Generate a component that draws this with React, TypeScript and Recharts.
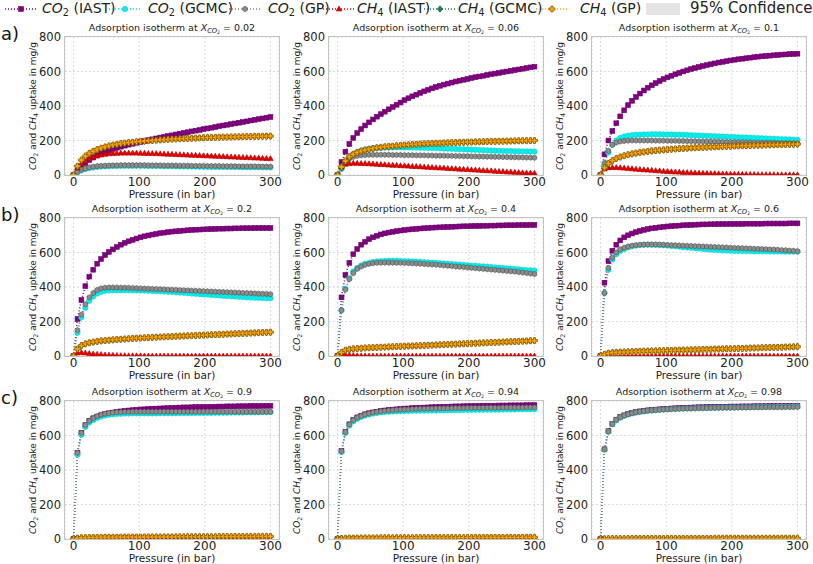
import React from 'react';
import { LineChart, Line, XAxis, YAxis, CartesianGrid } from 'recharts';

// pressure grid (bar)
const pressure = [0, 6, 12, 18, 24, 30, 36, 42, 48, 54, 60, 66, 72, 78, 84, 90, 96, 102, 108, 114, 120, 126, 132, 138, 144, 150, 156, 162, 168, 174, 180, 186, 192, 198, 204, 210, 216, 222, 228, 234, 240, 246, 252, 258, 264, 270, 276, 282, 288, 294, 300];

// X_CO2 = 0.02
const co2Iast002 = [0, 25, 50, 70, 87, 101, 113, 124, 134, 143, 151, 158, 164, 170, 176, 181, 187, 192, 197, 202, 207, 212, 217, 221, 226, 230, 235, 239, 244, 248, 253, 257, 261, 266, 270, 274, 278, 283, 287, 291, 295, 299, 303, 307, 311, 316, 320, 324, 328, 332, 336];
const co2Gcmc002 = [0, 15, 27, 35, 40, 44, 47, 49, 50, 51, 52, 52, 53, 53, 53, 53, 53, 53, 53, 52, 52, 52, 52, 51, 51, 51, 50, 50, 50, 49, 49, 49, 48, 48, 48, 47, 47, 47, 47, 46, 46, 46, 46, 45, 45, 45, 45, 45, 44, 44, 44];
const co2Gp002 = [0, 18, 30, 38, 44, 48, 51, 53, 54, 55, 56, 56, 57, 57, 57, 57, 57, 57, 57, 56, 56, 56, 56, 55, 55, 55, 55, 54, 54, 54, 53, 53, 53, 53, 52, 52, 52, 52, 51, 51, 51, 51, 50, 50, 50, 50, 50, 49, 49, 49, 49];
const ch4Iast002 = [0, 40, 65, 82, 95, 104, 111, 116, 120, 123, 125, 126, 127, 127, 127, 127, 127, 126, 126, 125, 125, 124, 123, 122, 121, 120, 119, 118, 117, 116, 115, 114, 113, 112, 111, 110, 109, 108, 107, 106, 105, 104, 103, 102, 101, 100, 99, 98, 97, 96, 95];
const ch4Gcmc002 = [0, 50, 85, 108, 125, 137, 147, 155, 162, 168, 173, 177, 181, 184, 187, 190, 192, 194, 196, 198, 200, 202, 203, 205, 206, 208, 209, 210, 211, 212, 213, 214, 215, 216, 217, 217, 218, 219, 219, 220, 220, 221, 221, 222, 222, 223, 223, 224, 224, 225, 225];
const ch4Gp002 = [0, 52, 87, 110, 126, 138, 148, 156, 163, 169, 174, 178, 182, 185, 188, 190, 193, 195, 197, 199, 200, 202, 204, 205, 207, 208, 209, 210, 211, 212, 213, 214, 215, 216, 217, 218, 218, 219, 220, 220, 221, 221, 222, 222, 223, 223, 224, 224, 225, 225, 226];

// X_CO2 = 0.06
const co2Iast006 = [0, 75, 135, 180, 215, 243, 266, 287, 305, 322, 338, 353, 367, 381, 394, 407, 420, 434, 445, 456, 466, 476, 485, 494, 502, 510, 517, 524, 530, 536, 542, 547, 552, 557, 562, 567, 571, 575, 580, 584, 588, 592, 596, 600, 604, 608, 612, 616, 620, 624, 628];
const co2Gcmc006 = [0, 35, 72, 100, 120, 133, 142, 148, 152, 155, 157, 158, 159, 159, 160, 160, 160, 160, 160, 159, 159, 158, 158, 157, 157, 156, 155, 154, 153, 152, 151, 150, 149, 148, 147, 146, 145, 144, 143, 142, 141, 140, 140, 139, 139, 138, 138, 137, 137, 136, 136];
const co2Gp006 = [0, 40, 75, 95, 105, 111, 114, 116, 117, 117, 117, 117, 117, 117, 116, 116, 116, 115, 115, 115, 114, 114, 114, 113, 113, 112, 112, 112, 111, 111, 110, 110, 109, 109, 108, 108, 107, 107, 106, 106, 105, 105, 104, 104, 103, 103, 102, 102, 101, 101, 100];
const ch4Iast006 = [0, 50, 62, 67, 68, 68, 67, 66, 65, 64, 62, 61, 60, 58, 57, 56, 54, 53, 52, 50, 49, 48, 46, 45, 44, 42, 41, 40, 38, 37, 36, 34, 33, 32, 30, 29, 28, 26, 25, 24, 22, 21, 20, 18, 17, 16, 14, 13, 12, 11, 10];
const ch4Gcmc006 = [0, 45, 80, 105, 120, 130, 138, 144, 149, 153, 157, 160, 163, 165, 167, 169, 171, 173, 175, 176, 178, 179, 180, 181, 182, 183, 184, 185, 186, 187, 188, 189, 189, 190, 191, 192, 192, 193, 194, 194, 195, 195, 196, 196, 197, 197, 198, 198, 199, 199, 200];
const ch4Gp006 = [0, 47, 82, 106, 121, 131, 139, 145, 150, 154, 158, 161, 164, 166, 168, 170, 172, 174, 175, 177, 178, 180, 181, 182, 183, 184, 185, 186, 187, 188, 188, 189, 190, 191, 191, 192, 193, 193, 194, 195, 195, 196, 196, 197, 197, 198, 198, 199, 199, 200, 200];

// X_CO2 = 0.1
const co2Iast01 = [0, 120, 200, 255, 300, 340, 375, 405, 430, 452, 472, 490, 506, 520, 533, 545, 556, 566, 575, 584, 592, 600, 607, 614, 620, 626, 632, 637, 642, 647, 652, 656, 660, 664, 668, 671, 674, 677, 680, 683, 686, 688, 690, 692, 694, 696, 698, 699, 701, 702, 703];
const co2Gcmc01 = [0, 60, 130, 175, 200, 215, 223, 228, 231, 233, 234, 235, 235, 236, 236, 236, 235, 235, 235, 234, 234, 233, 232, 231, 230, 229, 228, 227, 226, 225, 224, 223, 222, 221, 220, 219, 218, 217, 216, 215, 214, 213, 212, 211, 210, 209, 208, 207, 206, 205, 205];
const co2Gp01 = [0, 70, 140, 175, 188, 194, 197, 199, 200, 200, 200, 200, 200, 200, 199, 199, 199, 198, 198, 198, 197, 197, 196, 196, 196, 195, 195, 194, 194, 193, 193, 192, 192, 191, 191, 190, 190, 189, 189, 188, 188, 187, 187, 186, 186, 185, 185, 184, 184, 183, 183];
const ch4Iast01 = [0, 35, 42, 44, 43, 42, 40, 38, 36, 34, 32, 30, 29, 27, 25, 24, 22, 21, 19, 18, 17, 15, 14, 13, 12, 11, 10, 9, 8, 8, 7, 6, 6, 5, 5, 4, 4, 3, 3, 3, 2, 2, 2, 2, 2, 1, 1, 1, 1, 1, 1];
const ch4Gcmc01 = [0, 40, 65, 82, 95, 104, 111, 117, 122, 126, 130, 133, 136, 139, 141, 143, 145, 147, 149, 151, 152, 154, 155, 157, 158, 159, 160, 161, 162, 163, 164, 165, 166, 167, 168, 169, 169, 170, 171, 172, 172, 173, 174, 174, 175, 176, 176, 177, 177, 178, 178];
const ch4Gp01 = [0, 42, 67, 84, 96, 105, 112, 118, 123, 127, 131, 134, 137, 140, 142, 144, 146, 148, 150, 151, 153, 154, 156, 157, 158, 159, 160, 161, 162, 163, 164, 165, 166, 167, 168, 169, 170, 170, 171, 172, 173, 173, 174, 175, 175, 176, 176, 177, 178, 178, 179];

// X_CO2 = 0.2
const co2Iast02 = [0, 215, 325, 405, 460, 500, 535, 562, 585, 603, 618, 632, 645, 656, 665, 673, 681, 688, 694, 699, 704, 708, 712, 715, 718, 721, 723, 725, 727, 729, 731, 732, 733, 734, 735, 736, 737, 738, 738, 739, 739, 740, 740, 741, 741, 741, 742, 742, 742, 742, 742];
const co2Gcmc02 = [0, 135, 225, 280, 320, 345, 362, 372, 378, 380, 381, 381, 381, 381, 381, 381, 380, 380, 379, 378, 377, 376, 375, 374, 372, 371, 369, 368, 366, 364, 362, 361, 359, 357, 356, 354, 352, 351, 349, 348, 346, 345, 343, 342, 340, 339, 338, 337, 336, 335, 335];
const co2Gp02 = [0, 150, 240, 300, 340, 365, 383, 392, 396, 397, 397, 397, 396, 396, 395, 394, 393, 392, 391, 390, 389, 388, 387, 386, 385, 384, 383, 382, 381, 380, 379, 378, 377, 376, 375, 374, 373, 372, 371, 370, 369, 368, 367, 366, 365, 364, 363, 362, 361, 360, 358];
const ch4Iast02 = [0, 18, 20, 18, 15, 12, 10, 8, 6, 5, 4, 3, 2, 2, 1, 1, 1, 1, 0, 0, 0, 0, 0, 0, 0, 0, 0, 0, 0, 0, 0, 0, 0, 0, 0, 0, 0, 0, 0, 0, 0, 0, 0, 0, 0, 0, 0, 0, 0, 0, 0];
const ch4Gcmc02 = [0, 40, 60, 70, 76, 80, 84, 87, 89, 91, 93, 95, 97, 98, 100, 101, 103, 104, 105, 106, 107, 109, 110, 111, 112, 113, 114, 115, 116, 117, 118, 119, 120, 121, 122, 123, 124, 125, 126, 127, 128, 129, 130, 131, 132, 133, 134, 135, 136, 137, 138];
const ch4Gp02 = [0, 41, 61, 71, 77, 81, 85, 88, 90, 92, 94, 96, 97, 99, 100, 102, 103, 104, 106, 107, 108, 109, 110, 111, 112, 113, 114, 115, 116, 117, 118, 119, 120, 121, 122, 123, 124, 125, 126, 127, 128, 129, 130, 131, 132, 133, 134, 135, 136, 137, 138];

// X_CO2 = 0.4
const co2Iast04 = [0, 340, 470, 540, 590, 620, 645, 662, 677, 688, 697, 705, 711, 716, 720, 724, 727, 730, 733, 735, 737, 739, 741, 742, 744, 745, 746, 747, 748, 749, 750, 751, 752, 752, 753, 754, 754, 755, 755, 756, 756, 757, 757, 758, 758, 758, 759, 759, 759, 760, 760];
const co2Gcmc04 = [0, 265, 390, 450, 490, 510, 525, 535, 540, 545, 548, 550, 551, 552, 552, 552, 551, 550, 549, 548, 547, 546, 544, 543, 541, 540, 538, 536, 535, 533, 531, 530, 528, 526, 524, 523, 521, 519, 518, 516, 514, 512, 510, 508, 506, 504, 502, 500, 498, 497, 495];
const co2Gp04 = [0, 265, 385, 445, 480, 505, 518, 528, 534, 538, 540, 541, 541, 541, 541, 540, 540, 539, 538, 537, 536, 535, 533, 532, 530, 529, 527, 525, 523, 521, 519, 517, 515, 513, 511, 509, 507, 505, 503, 501, 499, 497, 495, 493, 491, 489, 486, 484, 481, 478, 475];
const ch4Iast04 = [0, 8, 7, 5, 3, 2, 1, 1, 0, 0, 0, 0, 0, 0, 0, 0, 0, 0, 0, 0, 0, 0, 0, 0, 0, 0, 0, 0, 0, 0, 0, 0, 0, 0, 0, 0, 0, 0, 0, 0, 0, 0, 0, 0, 0, 0, 0, 0, 0, 0, 0];
const ch4Gcmc04 = [0, 20, 33, 38, 41, 43, 45, 46, 47, 48, 49, 50, 51, 52, 53, 54, 55, 56, 57, 58, 59, 60, 61, 62, 63, 64, 65, 66, 67, 68, 69, 70, 71, 72, 73, 74, 75, 76, 77, 78, 79, 80, 81, 82, 83, 84, 85, 86, 87, 88, 90];
const ch4Gp04 = [0, 21, 34, 39, 42, 44, 45, 47, 48, 49, 50, 51, 52, 53, 54, 55, 56, 57, 58, 58, 59, 60, 61, 62, 63, 64, 65, 66, 67, 68, 69, 70, 71, 72, 73, 74, 75, 76, 77, 78, 79, 80, 81, 82, 83, 84, 85, 86, 87, 88, 89];

// X_CO2 = 0.6
const co2Iast06 = [0, 425, 550, 610, 645, 670, 688, 700, 710, 718, 725, 731, 736, 740, 743, 746, 749, 751, 753, 755, 756, 758, 759, 760, 761, 762, 763, 763, 764, 764, 765, 765, 765, 766, 766, 766, 766, 767, 767, 767, 767, 767, 768, 768, 768, 768, 768, 768, 769, 769, 769];
const co2Gcmc06 = [0, 365, 500, 560, 590, 608, 620, 630, 636, 640, 643, 645, 645, 645, 644, 643, 642, 640, 638, 636, 634, 631, 629, 627, 625, 623, 621, 619, 617, 615, 614, 612, 611, 610, 609, 609, 608, 608, 608, 607, 607, 607, 607, 606, 606, 606, 606, 605, 605, 605, 605];
const co2Gp06 = [0, 365, 510, 570, 600, 618, 628, 635, 640, 643, 645, 646, 647, 647, 647, 646, 645, 644, 643, 642, 641, 640, 639, 638, 637, 636, 635, 634, 633, 632, 631, 630, 629, 628, 627, 626, 625, 624, 623, 622, 621, 620, 619, 618, 617, 616, 614, 613, 611, 610, 608];
const ch4Iast06 = [0, 3, 2, 1, 1, 0, 0, 0, 0, 0, 0, 0, 0, 0, 0, 0, 0, 0, 0, 0, 0, 0, 0, 0, 0, 0, 0, 0, 0, 0, 0, 0, 0, 0, 0, 0, 0, 0, 0, 0, 0, 0, 0, 0, 0, 0, 0, 0, 0, 0, 0];
const ch4Gcmc06 = [0, 10, 17, 20, 22, 23, 24, 25, 26, 27, 28, 28, 29, 30, 30, 31, 31, 32, 33, 33, 34, 35, 35, 36, 37, 37, 38, 39, 39, 40, 41, 41, 42, 43, 43, 44, 45, 45, 46, 47, 47, 48, 49, 49, 50, 51, 51, 52, 53, 54, 55];
const ch4Gp06 = [0, 10, 16, 19, 21, 22, 23, 24, 25, 26, 27, 28, 28, 29, 30, 30, 31, 32, 32, 33, 34, 34, 35, 36, 36, 37, 38, 38, 39, 40, 40, 41, 42, 42, 43, 44, 44, 45, 46, 46, 47, 48, 48, 49, 50, 50, 51, 52, 52, 53, 54];

// X_CO2 = 0.9
const co2Iast09 = [0, 500, 615, 660, 685, 700, 710, 718, 724, 729, 733, 737, 740, 743, 745, 747, 749, 751, 752, 754, 755, 756, 757, 758, 759, 760, 761, 762, 763, 763, 764, 765, 765, 766, 766, 767, 767, 768, 768, 769, 769, 769, 770, 770, 770, 771, 771, 771, 772, 772, 772];
const co2Gcmc09 = [0, 490, 605, 650, 675, 690, 702, 710, 716, 720, 723, 725, 726, 727, 727, 728, 728, 728, 728, 728, 728, 728, 729, 729, 729, 729, 729, 730, 730, 730, 730, 730, 731, 731, 731, 731, 732, 732, 732, 732, 733, 733, 733, 733, 734, 734, 734, 734, 735, 735, 735];
const co2Gp09 = [0, 500, 615, 660, 685, 700, 712, 720, 726, 730, 733, 735, 736, 737, 737, 738, 738, 738, 738, 738, 738, 738, 738, 738, 738, 738, 738, 738, 738, 738, 738, 738, 738, 738, 738, 738, 738, 738, 738, 738, 738, 738, 738, 738, 738, 738, 738, 738, 738, 738, 738];
const ch4Iast09 = [0, 2, 2, 2, 2, 1, 1, 1, 1, 1, 1, 1, 1, 1, 1, 1, 1, 1, 1, 1, 1, 1, 1, 1, 1, 1, 1, 1, 1, 1, 0, 0, 0, 0, 0, 0, 0, 0, 0, 0, 0, 0, 0, 0, 0, 0, 0, 0, 0, 0, 0];
const ch4Gcmc09 = [0, 5, 7, 8, 8, 9, 9, 9, 10, 10, 10, 10, 10, 11, 11, 11, 11, 11, 11, 11, 12, 12, 12, 12, 12, 12, 12, 12, 12, 13, 13, 13, 13, 13, 13, 13, 13, 13, 13, 13, 14, 14, 14, 14, 14, 14, 14, 14, 14, 14, 14];
const ch4Gp09 = [0, 5, 7, 8, 9, 9, 9, 10, 10, 10, 10, 10, 11, 11, 11, 11, 11, 11, 12, 12, 12, 12, 12, 12, 12, 12, 13, 13, 13, 13, 13, 13, 13, 13, 13, 13, 13, 14, 14, 14, 14, 14, 14, 14, 14, 14, 14, 15, 15, 15, 15];

// X_CO2 = 0.94
const co2Iast094 = [0, 510, 620, 665, 690, 705, 715, 723, 729, 734, 738, 742, 745, 748, 750, 752, 754, 756, 757, 759, 760, 761, 762, 763, 764, 765, 766, 767, 767, 768, 769, 769, 770, 770, 771, 771, 772, 772, 773, 773, 773, 774, 774, 774, 775, 775, 775, 775, 776, 776, 776];
const co2Gcmc094 = [0, 505, 615, 658, 682, 697, 708, 716, 722, 727, 731, 734, 736, 738, 739, 740, 741, 742, 742, 743, 743, 744, 744, 745, 745, 745, 746, 746, 746, 747, 747, 747, 748, 748, 748, 749, 749, 749, 750, 750, 750, 750, 751, 751, 751, 751, 752, 752, 752, 752, 752];
const co2Gp094 = [0, 510, 620, 664, 689, 704, 714, 722, 728, 733, 737, 740, 743, 745, 747, 749, 750, 751, 752, 753, 754, 755, 755, 756, 756, 757, 757, 758, 758, 758, 759, 759, 759, 760, 760, 760, 760, 761, 761, 761, 761, 761, 762, 762, 762, 762, 762, 762, 763, 763, 763];
const ch4Iast094 = [0, 1, 1, 1, 1, 1, 1, 1, 1, 1, 1, 1, 1, 1, 1, 1, 1, 1, 1, 1, 0, 0, 0, 0, 0, 0, 0, 0, 0, 0, 0, 0, 0, 0, 0, 0, 0, 0, 0, 0, 0, 0, 0, 0, 0, 0, 0, 0, 0, 0, 0];
const ch4Gcmc094 = [0, 3, 4, 5, 5, 5, 6, 6, 6, 6, 6, 6, 7, 7, 7, 7, 7, 7, 7, 7, 7, 7, 8, 8, 8, 8, 8, 8, 8, 8, 8, 8, 8, 8, 8, 8, 8, 8, 9, 9, 9, 9, 9, 9, 9, 9, 9, 9, 9, 9, 9];
const ch4Gp094 = [0, 3, 4, 5, 5, 6, 6, 6, 6, 6, 6, 7, 7, 7, 7, 7, 7, 7, 7, 7, 8, 8, 8, 8, 8, 8, 8, 8, 8, 8, 8, 8, 8, 8, 9, 9, 9, 9, 9, 9, 9, 9, 9, 9, 9, 9, 9, 10, 10, 10, 10];

// X_CO2 = 0.98
const co2Iast098 = [0, 520, 625, 668, 692, 707, 717, 725, 731, 736, 740, 743, 746, 748, 750, 752, 754, 755, 757, 758, 759, 760, 761, 762, 763, 764, 764, 765, 765, 766, 766, 767, 767, 768, 768, 768, 769, 769, 769, 770, 770, 770, 770, 771, 771, 771, 771, 772, 772, 772, 772];
const co2Gcmc098 = [0, 518, 622, 665, 689, 704, 714, 722, 728, 733, 737, 740, 743, 745, 747, 749, 750, 752, 753, 754, 755, 756, 757, 757, 758, 759, 759, 760, 760, 761, 761, 762, 762, 763, 763, 763, 764, 764, 764, 765, 765, 765, 766, 766, 766, 767, 767, 767, 767, 768, 768];
const co2Gp098 = [0, 520, 624, 667, 691, 706, 716, 724, 730, 735, 738, 741, 744, 746, 748, 749, 751, 752, 753, 754, 755, 756, 756, 757, 757, 758, 758, 759, 759, 760, 760, 760, 761, 761, 761, 762, 762, 762, 763, 763, 763, 763, 764, 764, 764, 764, 764, 765, 765, 765, 765];
const ch4Iast098 = [0, 0, 0, 0, 0, 0, 0, 0, 0, 0, 0, 0, 0, 0, 0, 0, 0, 0, 0, 0, 0, 0, 0, 0, 0, 0, 0, 0, 0, 0, 0, 0, 0, 0, 0, 0, 0, 0, 0, 0, 0, 0, 0, 0, 0, 0, 0, 0, 0, 0, 0];
const ch4Gcmc098 = [0, 1, 2, 2, 2, 2, 2, 2, 3, 3, 3, 3, 3, 3, 3, 3, 3, 3, 3, 3, 3, 3, 3, 3, 3, 3, 3, 3, 3, 3, 3, 4, 4, 4, 4, 4, 4, 4, 4, 4, 4, 4, 4, 4, 4, 4, 4, 4, 4, 4, 4];
const ch4Gp098 = [0, 1, 2, 2, 2, 2, 2, 3, 3, 3, 3, 3, 3, 3, 3, 3, 3, 3, 3, 3, 3, 3, 3, 3, 3, 3, 3, 3, 3, 4, 4, 4, 4, 4, 4, 4, 4, 4, 4, 4, 4, 4, 4, 4, 4, 4, 4, 4, 4, 4, 4];

const xTicks = [0, 100, 200, 300];
const yTicks = [0, 200, 400, 600, 800];

const FONT = '"DejaVu Sans", Verdana, sans-serif';

type Shape = 'square' | 'circle' | 'hex' | 'triangle' | 'diamond' | 'plus';

const SERIES: { key: string; gas: string; method: string; color: string; fill: string; edge: string; shape: Shape }[] = [
  { key: 'co2Iast', gas: 'CO', method: 'IAST', color: '#800080', fill: '#800080', edge: '#6a006a', shape: 'square' },
  { key: 'co2Gcmc', gas: 'CO', method: 'GCMC', color: '#00e5e5', fill: '#00f0f0', edge: '#20c8c8', shape: 'circle' },
  { key: 'co2Gp', gas: 'CO', method: 'GP', color: '#808080', fill: '#8c8c8c', edge: '#505050', shape: 'hex' },
  { key: 'ch4Iast', gas: 'CH', method: 'IAST', color: '#e00000', fill: '#e60000', edge: '#b00000', shape: 'triangle' },
  { key: 'ch4Gcmc', gas: 'CH', method: 'GCMC', color: '#1a7f55', fill: '#1d8a5c', edge: '#0c3f28', shape: 'diamond' },
  { key: 'ch4Gp', gas: 'CH', method: 'GP', color: '#ffa500', fill: '#ffa500', edge: '#7a5200', shape: 'plus' },
];

const PANELS = [
  { label: '0.02', data: [co2Iast002, co2Gcmc002, co2Gp002, ch4Iast002, ch4Gcmc002, ch4Gp002] },
  { label: '0.06', data: [co2Iast006, co2Gcmc006, co2Gp006, ch4Iast006, ch4Gcmc006, ch4Gp006] },
  { label: '0.1', data: [co2Iast01, co2Gcmc01, co2Gp01, ch4Iast01, ch4Gcmc01, ch4Gp01] },
  { label: '0.2', data: [co2Iast02, co2Gcmc02, co2Gp02, ch4Iast02, ch4Gcmc02, ch4Gp02] },
  { label: '0.4', data: [co2Iast04, co2Gcmc04, co2Gp04, ch4Iast04, ch4Gcmc04, ch4Gp04] },
  { label: '0.6', data: [co2Iast06, co2Gcmc06, co2Gp06, ch4Iast06, ch4Gcmc06, ch4Gp06] },
  { label: '0.9', data: [co2Iast09, co2Gcmc09, co2Gp09, ch4Iast09, ch4Gcmc09, ch4Gp09] },
  { label: '0.94', data: [co2Iast094, co2Gcmc094, co2Gp094, ch4Iast094, ch4Gcmc094, ch4Gp094] },
  { label: '0.98', data: [co2Iast098, co2Gcmc098, co2Gp098, ch4Iast098, ch4Gcmc098, ch4Gp098] },
];

const COL_LEFT = [65, 329, 592];
const ROW_TOP = [37, 218, 401];
const PLOT_W = 214;
const PLOT_H = 138;
const ROW_TAGS = ['a)', 'b)', 'c)'];

function marker(shape: Shape, cx: number, cy: number, fill: string, edge: string, k?: string) {
  const sw = 0.6;
  switch (shape) {
    case 'square':
      return <rect key={k} x={cx - 2.4} y={cy - 2.4} width={4.8} height={4.8} fill={fill} stroke={edge} strokeWidth={sw} />;
    case 'circle':
      return <circle key={k} cx={cx} cy={cy} r={2.7} fill={fill} stroke={edge} strokeWidth={sw} />;
    case 'hex': {
      const pts = [0, 1, 2, 3, 4, 5].map((i) => {
        const a = (Math.PI / 3) * i + Math.PI / 6;
        return `${cx + 2.7 * Math.cos(a)},${cy + 2.7 * Math.sin(a)}`;
      }).join(' ');
      return <polygon key={k} points={pts} fill={fill} stroke={edge} strokeWidth={sw} />;
    }
    case 'triangle':
      return <polygon key={k} points={`${cx},${cy - 3} ${cx + 2.8},${cy + 2} ${cx - 2.8},${cy + 2}`} fill={fill} stroke={edge} strokeWidth={sw} />;
    case 'diamond':
      return <polygon key={k} points={`${cx},${cy - 3.2} ${cx + 2.6},${cy} ${cx},${cy + 3.2} ${cx - 2.6},${cy}`} fill={fill} stroke={edge} strokeWidth={sw} />;
    case 'plus': {
      const a = 1.1, b = 3;
      const d = `M${cx - a},${cy - b}H${cx + a}V${cy - a}H${cx + b}V${cy + a}H${cx + a}V${cy + b}H${cx - a}V${cy + a}H${cx - b}V${cy - a}H${cx - a}Z`;
      return <path key={k} d={d} fill={fill} stroke={edge} strokeWidth={sw} />;
    }
  }
  return null;
}

function Sub({ children }: { children: React.ReactNode }) {
  return <span style={{ fontSize: '70%', verticalAlign: '-0.3em', lineHeight: 0 }}>{children}</span>;
}

function Panel({ idx }: { idx: number }) {
  const panel = PANELS[idx];
  const row = Math.floor(idx / 3);
  const col = idx % 3;
  const L = COL_LEFT[col];
  const T = ROW_TOP[row];
  const rows = pressure.map((p, i) => {
    const o: Record<string, number> = { p };
    SERIES.forEach((s, j) => { o[s.key] = panel.data[j][i]; });
    return o;
  });
  return (
    <>
      <div style={{ position: 'absolute', left: L - 50, top: T - 10 }}>
        <LineChart width={PLOT_W + 55} height={PLOT_H + 35} data={rows} margin={{ top: 10, right: 5, bottom: 0, left: 0 }}>
          <CartesianGrid stroke="#dcdcdc" strokeDasharray="2 2" />
          <XAxis type="number" dataKey="p" domain={[-13, 313]} ticks={xTicks} allowDataOverflow axisLine={false} tickLine={false} tickSize={0} tickMargin={2} height={25} tick={{ fontSize: 12, fill: '#222', fontFamily: FONT }} />
          <YAxis type="number" domain={[0, 800]} ticks={yTicks} allowDataOverflow axisLine={false} tickLine={false} tickSize={0} tickMargin={4} width={50} tick={{ fontSize: 11.5, fill: '#222', fontFamily: FONT }} />
          {SERIES.map((s) => (
            <Line
              key={s.key}
              dataKey={s.key}
              type="linear"
              stroke={s.color}
              strokeWidth={1.5}
              strokeDasharray="1 2"
              isAnimationActive={false}
              activeDot={false}
              dot={(props: any) => marker(s.shape, props.cx, props.cy, s.fill, s.edge, `${s.key}-${props.index}`)}
            />
          ))}
        </LineChart>
      </div>
      <div style={{ position: 'absolute', left: L - 0.75, top: T - 0.75, width: PLOT_W, height: PLOT_H, border: '1.5px solid #c4c4c4', pointerEvents: 'none' }} />
      <div style={{ position: 'absolute', left: L, width: PLOT_W, top: T - 15, textAlign: 'center', fontSize: 9.5, color: '#222', whiteSpace: 'nowrap', fontFamily: FONT }}>
        Adsorption isotherm at <i>X</i><Sub><i>CO</i><Sub>2</Sub></Sub> = {panel.label}
      </div>
      <div style={{ position: 'absolute', left: L - 32, top: T + PLOT_H / 2, transform: 'translate(-50%, -50%) rotate(-90deg)', fontSize: 9, color: '#222', whiteSpace: 'nowrap', fontFamily: FONT }}>
        <i>CO</i><Sub>2</Sub> and <i>CH</i><Sub>4</Sub> uptake in mg/g
      </div>
      <div style={{ position: 'absolute', left: L, width: PLOT_W, top: T + PLOT_H + 14, lineHeight: 1, textAlign: 'center', fontSize: 10.5, color: '#222', fontFamily: FONT }}>
        Pressure (in bar)
      </div>
    </>
  );
}

const LEGEND_POS = [
  { sample: 5, text: 42 },
  { sample: 109, text: 148 },
  { sample: 229, text: 268 },
  { sample: 323, text: 357 },
  { sample: 424, text: 458 },
  { sample: 536, text: 580 },
];

function LegendBar() {
  return (
    <>
      {SERIES.map((s, i) => (
        <React.Fragment key={s.key}>
          <svg style={{ position: 'absolute', left: LEGEND_POS[i].sample, top: 2 }} width={32} height={14}>
            <line x1={0} y1={7} x2={32} y2={7} stroke={s.color} strokeWidth={1.5} strokeDasharray="1 2" />
            {marker(s.shape, 16, 7, s.fill, s.edge)}
          </svg>
          <div style={{ position: 'absolute', left: LEGEND_POS[i].text, top: 0, fontSize: 14, color: '#222', whiteSpace: 'nowrap', fontFamily: FONT }}>
            <i>{s.gas}</i><Sub>{s.gas === 'CO' ? '2' : '4'}</Sub> ({s.method})
          </div>
        </React.Fragment>
      ))}
      <div style={{ position: 'absolute', left: 646, top: 3, width: 34, height: 12, background: '#e4e4e4' }} />
      <div style={{ position: 'absolute', left: 690, top: -1, fontSize: 15, color: '#222', whiteSpace: 'nowrap', fontFamily: FONT }}>
        95% Confidence
      </div>
    </>
  );
}

export default function App() {
  return (
    <div style={{ position: 'absolute', left: 0, top: 0, width: 813, height: 564, background: '#fff', overflow: 'hidden', fontFamily: FONT }}>
      <LegendBar />
      {ROW_TAGS.map((t, r) => (
        <div key={t} style={{ position: 'absolute', left: 1, top: ROW_TOP[r] - 14, fontSize: 18, color: '#111', fontFamily: FONT }}>{t}</div>
      ))}
      {PANELS.map((_, i) => <Panel key={i} idx={i} />)}
    </div>
  );
}
